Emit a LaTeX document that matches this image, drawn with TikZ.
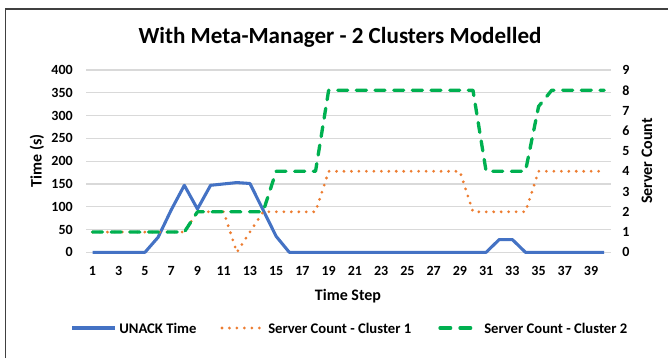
\documentclass[tikz,border=0pt]{standalone}
\usepackage{fontspec}
\setmainfont{Carlito}
\definecolor{sblue}{HTML}{4472C4}
\definecolor{sorange}{HTML}{ED7D31}
\definecolor{sgreen}{HTML}{00B050}
\definecolor{gridc}{HTML}{D9D9D9}
\definecolor{framec}{HTML}{404040}
\tikzset{
  gridline/.style={draw=gridc, line width=0.9pt},
  framestyle/.style={draw=framec, line width=1pt},
  ticklbl/.style={font=\bfseries\fontsize{10.5}{12}\selectfont, inner sep=0pt},
  legendlbl/.style={font=\bfseries\fontsize{11}{13}\selectfont, inner sep=0pt},
  axtitle/.style={font=\bfseries\fontsize{12}{14}\selectfont, inner sep=0pt},
  charttitle/.style={font=\bfseries\fontsize{17.3}{20}\selectfont, inner sep=0pt},
  unackline/.style={draw=sblue, line width=2.3pt, line join=round},
  c1line/.style={draw=sorange, line width=2.3pt, line cap=round, line join=round, dash pattern=on 0pt off 5.6pt},
  c2line/.style={draw=sgreen, line width=2.5pt, line cap=round, line join=round, dash pattern=on 7.5pt off 6.5pt},
}
\begin{document}
\begin{tikzpicture}[x=0.75pt,y=-0.75pt]
\useasboundingbox (0,0) rectangle (668,358);
\fill[white] (0,0) rectangle (668,358);
\draw[framestyle] (5.5,358) -- (5.5,9) -- (668,9);
\node[charttitle] (title) at (340,37) {With Meta-Manager - 2 Clusters Modelled};
% gridlines and left labels
\foreach \v in {0,50,...,400} {
  \draw[gridline] (86,{252.3-0.4558*\v}) -- (610.5,{252.3-0.4558*\v});
  \node[ticklbl, anchor=east] (yl\v) at (73,{252.3-0.4558*\v}) {\v};
}
% right labels
\foreach \s in {0,...,9} {
  \node[ticklbl] (yr\s) at (626,{252.3-20.258*\s}) {\s};
}
% x labels
\foreach \i in {1,3,...,39} {
  \node[ticklbl] (xl\i) at ({92.5+13.12*(\i-1)},271) {\i};
}
\node[axtitle, rotate=90] (ytitle) at (37,161) {Time (s)};
\node[axtitle, rotate=90] (y2title) at (647,161) {Server Count};
\node[axtitle] (xtitle) at (348,296) {Time Step};
% data in step / value coordinates
\begin{scope}[shift={(79.38,252.3)}, x=9.84pt, y=0.34185pt]
\draw[unackline] plot coordinates {(1,0) (2,0) (3,0) (4,0) (5,0) (6,33) (7,93) (8,147) (9,95) (10,147) (11,150) (12,153) (13,151) (14,93) (15,35) (16,0) (17,0) (18,0) (19,0) (20,0) (21,0) (22,0) (23,0) (24,0) (25,0) (26,0) (27,0) (28,0) (29,0) (30,0) (31,0) (32,28) (33,28) (34,0) (35,0) (36,0) (37,0) (38,0) (39,0) (40,0)};
\end{scope}
\begin{scope}[shift={(79.38,252.3)}, x=9.84pt, y=15.1935pt]
\draw[c1line] plot coordinates {(1,1) (2,1) (3,1) (4,1) (5,1) (6,1) (7,1) (8,1) (9,2) (10,2) (11,2) (12,0) (13,1) (14,2) (15,2) (16,2) (17,2) (18,2) (19,4) (20,4) (21,4) (22,4) (23,4) (24,4) (25,4) (26,4) (27,4) (28,4) (29,4) (30,2) (31,2) (32,2) (33,2) (34,2) (35,4) (36,4) (37,4) (38,4) (39,4) (40,4)};
\draw[c2line] plot coordinates {(1,1) (2,1) (3,1) (4,1) (5,1) (6,1) (7,1) (8,1) (9,2) (10,2) (11,2) (12,2) (13,2) (14,2) (15,4) (16,4) (17,4) (18,4) (19,8) (20,8) (21,8) (22,8) (23,8) (24,8) (25,8) (26,8) (27,8) (28,8) (29,8) (30,8) (31,4) (32,4) (33,4) (34,4) (35,7.2) (36,8) (37,8) (38,8) (39,8) (40,8)};
\end{scope}
% legend
\coordinate (lg1a) at (72,328); \coordinate (lg1b) at (115,328);
\draw[unackline] (lg1a) -- (lg1b);
\node[legendlbl, anchor=west] (lgt1) at (119,328) {UNACK Time};
\coordinate (lg2a) at (222,328); \coordinate (lg2b) at (262,328);
\draw[c1line] (lg2a) -- (lg2b);
\node[legendlbl, anchor=west] (lgt2) at (268,328) {Server Count - Cluster 1};
\coordinate (lg3a) at (440,328); \coordinate (lg3b) at (477,328);
\draw[c2line, dash pattern=on 8pt off 7pt] (lg3a) -- (lg3b);
\node[legendlbl, anchor=west] (lgt3) at (484,328) {Server Count - Cluster 2};
\end{tikzpicture}
\end{document}
